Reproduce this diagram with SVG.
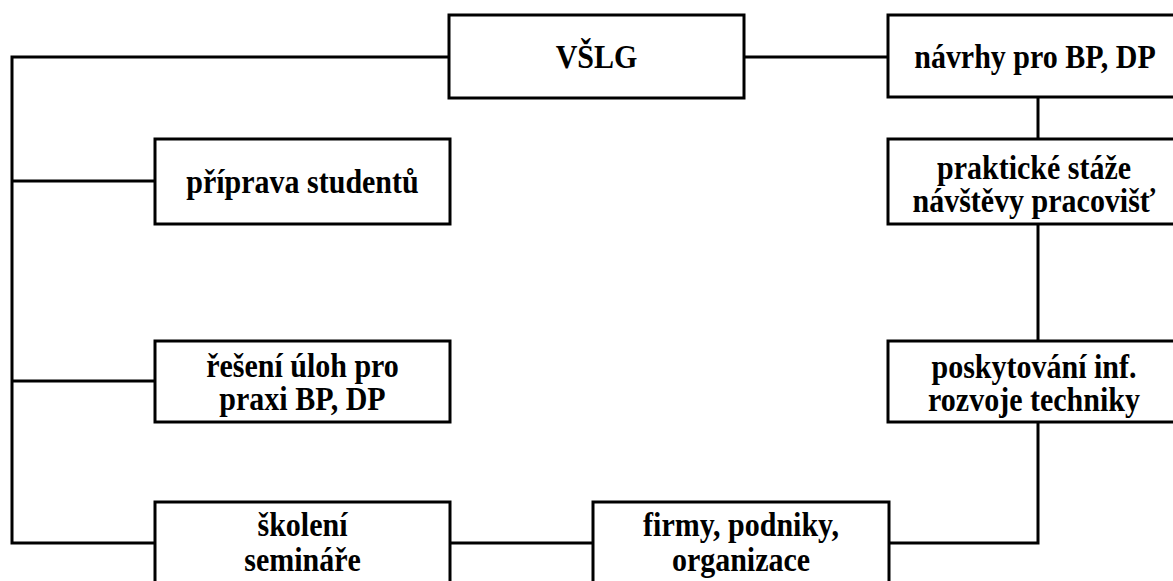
<svg xmlns="http://www.w3.org/2000/svg" width="1173" height="581" viewBox="0 0 1173 581">
<style>
.box{fill:#fff;stroke:#000;stroke-width:3}
.con{fill:none;stroke:#000;stroke-width:3}
text{font-family:"Liberation Serif","Times New Roman",serif;font-weight:bold;font-size:30px;text-anchor:middle;fill:#000}
</style>
<rect width="1173" height="581" fill="#fff"/>
<g id="connectors">
<polyline class="con" points="449,57 12,57 12,543 155,543"/>
<line class="con" x1="12" y1="181" x2="155" y2="181"/>
<line class="con" x1="12" y1="381" x2="155" y2="381"/>
<line class="con" x1="744" y1="57" x2="888" y2="57"/>
<line class="con" x1="1038" y1="97" x2="1038" y2="139"/>
<line class="con" x1="1038" y1="224" x2="1038" y2="341"/>
<polyline class="con" points="1038,422 1038,543 889,543"/>
<line class="con" x1="450" y1="543" x2="593" y2="543"/>
</g>
<g id="vslg">
<rect class="box" x="449" y="15" width="295" height="83"/>
<text transform="translate(596.5,68) scale(1,1.1)">VŠLG</text>
</g>
<g id="navrhy">
<rect class="box" x="888" y="15" width="300" height="82"/>
<text transform="translate(1035,68) scale(1,1.1)">návrhy pro BP, DP</text>
</g>
<g id="priprava">
<rect class="box" x="155" y="139" width="295" height="85"/>
<text transform="translate(302.5,193) scale(1,1.1)">příprava studentů</text>
</g>
<g id="prakticke">
<rect class="box" x="888" y="139" width="300" height="85"/>
<text transform="translate(1034,179) scale(1,1.1)">praktické stáže</text>
<text transform="translate(1034,212) scale(1,1.1)">návštěvy pracovišť</text>
</g>
<g id="reseni">
<rect class="box" x="155" y="341" width="295" height="81"/>
<text transform="translate(302.5,377) scale(1,1.1)">řešení úloh pro</text>
<text transform="translate(302.5,410) scale(1,1.1)">praxi BP, DP</text>
</g>
<g id="poskytovani">
<rect class="box" x="888" y="341" width="300" height="81"/>
<text transform="translate(1034,378) scale(1,1.1)">poskytování inf.</text>
<text transform="translate(1034,411) scale(1,1.1)">rozvoje techniky</text>
</g>
<g id="skoleni">
<rect class="box" x="155" y="502" width="295" height="100"/>
<text transform="translate(302.5,536) scale(1,1.1)">školení</text>
<text transform="translate(302.5,571) scale(1,1.1)">semináře</text>
</g>
<g id="firmy">
<rect class="box" x="593" y="502" width="296" height="100"/>
<text transform="translate(741,536) scale(1,1.1)">firmy, podniky,</text>
<text transform="translate(741,571) scale(1,1.1)">organizace</text>
</g>
</svg>
